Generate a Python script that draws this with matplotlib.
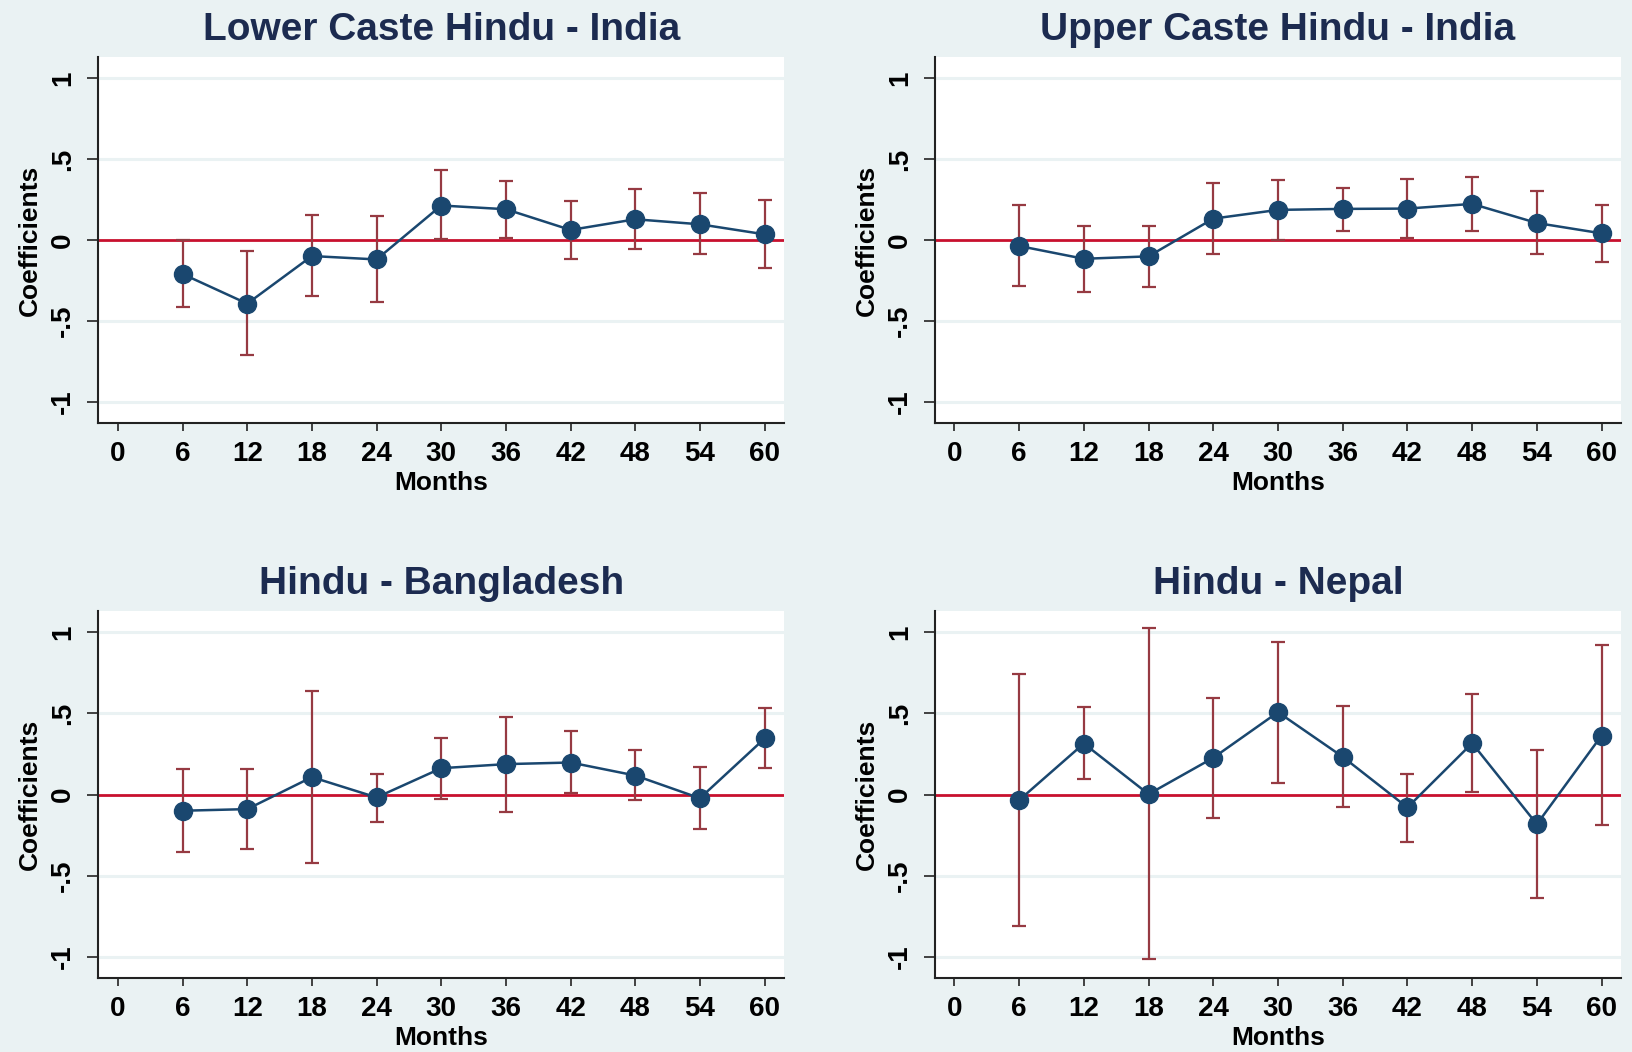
import numpy as np
import matplotlib.pyplot as plt

plt.rcParams['font.family'] = ['Liberation Sans', 'DejaVu Sans']
plt.rcParams['font.weight'] = 'bold'

months = [6, 12, 18, 24, 30, 36, 42, 48, 54, 60]
xticks = [0, 6, 12, 18, 24, 30, 36, 42, 48, 54, 60]

titles = ["Lower Caste Hindu - India", "Upper Caste Hindu - India",
          "Hindu - Bangladesh", "Hindu - Nepal"]

# point estimates
coef_lower = [-0.21, -0.393, -0.099, -0.12, 0.213, 0.19, 0.062, 0.128, 0.097, 0.035]
coef_upper = [-0.037, -0.116, -0.101, 0.132, 0.186, 0.192, 0.194, 0.223, 0.105, 0.041]
coef_bangl = [-0.10, -0.09, 0.107, -0.018, 0.162, 0.187, 0.197, 0.117, -0.023, 0.345]
coef_nepal = [-0.035, 0.314, 0.002, 0.226, 0.507, 0.232, -0.08, 0.316, -0.183, 0.363]

# confidence interval bounds
lo_lower = [-0.413, -0.713, -0.347, -0.384, 0.004, 0.014, -0.12, -0.054, -0.089, -0.171]
hi_lower = [0.0, -0.068, 0.153, 0.147, 0.43, 0.366, 0.242, 0.318, 0.289, 0.246]
lo_upper = [-0.287, -0.32, -0.291, -0.085, 0.002, 0.058, 0.014, 0.058, -0.089, -0.136]
hi_upper = [0.217, 0.087, 0.089, 0.349, 0.372, 0.324, 0.376, 0.39, 0.30, 0.219]
lo_bangl = [-0.355, -0.337, -0.419, -0.168, -0.025, -0.107, 0.008, -0.035, -0.214, 0.164]
hi_bangl = [0.156, 0.156, 0.637, 0.129, 0.345, 0.48, 0.388, 0.271, 0.168, 0.53]
lo_nepal = [-0.809, 0.097, -1.016, -0.144, 0.072, -0.078, -0.29, 0.018, -0.635, -0.187]
hi_nepal = [0.743, 0.536, 1.025, 0.595, 0.942, 0.548, 0.129, 0.616, 0.273, 0.918]

coefs = [coef_lower, coef_upper, coef_bangl, coef_nepal]
los = [lo_lower, lo_upper, lo_bangl, lo_nepal]
his = [hi_lower, hi_upper, hi_bangl, hi_nepal]

bg = '#eaf2f3'
navy = '#1a476f'
title_navy = '#1c2b50'
maroon = '#963a42'
zero_red = '#c8102e'

W, H = 1633, 1052
fig = plt.figure(figsize=(W / 100, H / 100), dpi=100, facecolor=bg)

# axes boxes in pixels: left, right, top, bottom
boxes = [(98.5, 784, 57, 423), (935, 1621, 57, 423),
         (98.5, 784, 611, 978), (935, 1621, 611, 978)]

for i in range(4):
    l, r, t, b = boxes[i]
    ax = fig.add_axes([l / W, 1 - b / H, (r - l) / W, (b - t) / H])
    ax.set_facecolor('white')

    c = np.array(coefs[i])
    lo = np.array(los[i])
    hi = np.array(his[i])

    for g in [-1, -0.5, 0.5, 1]:
        ax.axhline(g, color=bg, lw=2.2, zorder=0)
    ax.axhline(0, color=zero_red, lw=2, zorder=1)

    ax.errorbar(months, c, yerr=[c - lo, hi - c], fmt='none', ecolor=maroon,
                elinewidth=1.6, capsize=5, capthick=1.6, zorder=2)
    ax.plot(months, c, color=navy, lw=1.8, marker='o', ms=13,
            markerfacecolor=navy, markeredgecolor=navy, zorder=3)

    ax.set_xlim(-1.8, 61.8)
    ax.set_ylim(-1.13, 1.13)
    ax.set_xticks(xticks)
    ax.set_xticklabels([str(v) for v in xticks])
    ax.set_yticks([-1, -0.5, 0, 0.5, 1])
    ax.set_yticklabels(['-1', '-.5', '0', '.5', '1'], rotation=90, va='center')

    for s in ['top', 'right']:
        ax.spines[s].set_visible(False)
    for s in ['left', 'bottom']:
        ax.spines[s].set_color('#222222')
        ax.spines[s].set_linewidth(1.5)

    ax.tick_params(axis='y', length=8, width=1.3, color='#333333', pad=8,
                   labelsize=20)
    ax.tick_params(axis='x', length=6, width=1.3, color='#333333', pad=7,
                   labelsize=20)
    ax.set_xlabel('Months', fontsize=19, fontweight='bold', labelpad=3)
    ax.set_ylabel('Coefficients', fontsize=19, fontweight='bold', labelpad=6)
    ax.set_title(titles[i], fontsize=28, fontweight='bold', color=title_navy, pad=12)

fig.savefig('out.png', dpi=100, facecolor=bg)
